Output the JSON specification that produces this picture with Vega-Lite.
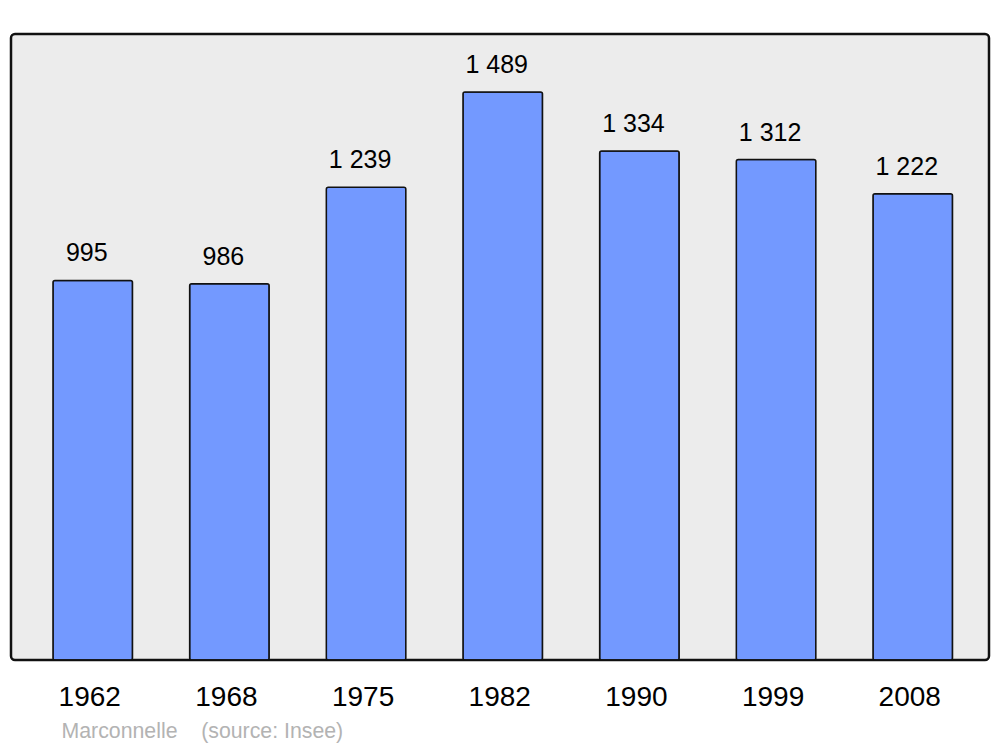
{
  "$schema": "https://vega.github.io/schema/vega-lite/v6.json",
  "width": 978,
  "height": 626,
  "autosize": "none",
  "padding": {"left": 11, "top": 34, "right": 11, "bottom": 87},
  "background": "white",
  "config": {
    "font": "Liberation Sans",
    "view": {"fill": "#ececec", "stroke": "#111111", "strokeWidth": 2.5, "cornerRadius": 4}
  },
  "data": {
    "values": [
      {"year": "1962", "pop": 995, "label": "995"},
      {"year": "1968", "pop": 986, "label": "986"},
      {"year": "1975", "pop": 1239, "label": "1 239"},
      {"year": "1982", "pop": 1489, "label": "1 489"},
      {"year": "1990", "pop": 1334, "label": "1 334"},
      {"year": "1999", "pop": 1312, "label": "1 312"},
      {"year": "2008", "pop": 1222, "label": "1 222"}
    ]
  },
  "encoding": {
    "x": {
      "field": "year", "type": "ordinal",
      "scale": {"paddingInner": 0.418, "paddingOuter": 0.287, "align": 0.535},
      "axis": {
        "domain": false, "ticks": false, "labelAngle": 0,
        "labelFontSize": 28, "labelColor": "#000000", "labelPadding": 23, "labelOffset": -3,
        "labelFont": "Liberation Sans",
        "title": "Marconnelle\u00a0\u00a0\u00a0\u00a0(source: Insee)",
        "titleFontSize": 21.3, "titleFontWeight": "normal", "titleColor": "#b3b3b3",
        "titleFont": "Liberation Sans",
        "titleAlign": "left", "titleAnchor": "start", "titleX": 50, "titleY": 77, "titleBaseline": "alphabetic"
      }
    },
    "y": {
      "field": "pop", "type": "quantitative",
      "scale": {"domain": [0, 1641], "nice": false},
      "axis": null
    }
  },
  "layer": [
    {
      "mark": {"type": "bar", "fill": "#7399ff", "stroke": "#111111", "strokeWidth": 1.5, "cornerRadius": 2}
    },
    {
      "mark": {"type": "text", "fontSize": 25, "color": "#000000", "baseline": "alphabetic", "dy": -19, "dx": -6},
      "encoding": {"text": {"field": "label"}}
    }
  ]
}
